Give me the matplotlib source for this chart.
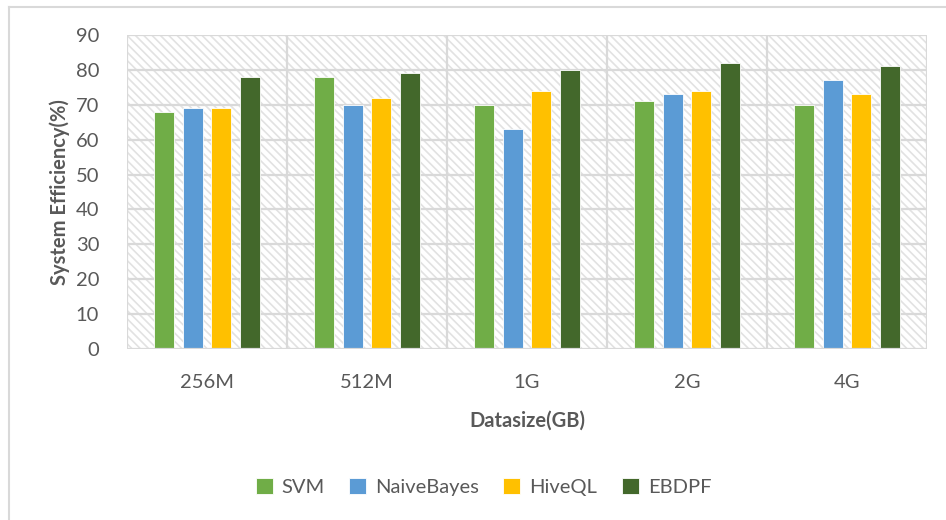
import numpy as np
import matplotlib
matplotlib.use('Agg')
import matplotlib.pyplot as plt
from matplotlib.patches import Rectangle
from matplotlib.lines import Line2D

# ── data ──────────────────────────────────────────────────────────────
sizes = ['256M', '512M', '1G', '2G', '4G']
svm = [68, 78, 70, 71, 70]
naive_bayes = [69, 70, 63, 73, 77]
hiveql = [69, 72, 74, 74, 73]
ebdpf = [78, 79, 80, 82, 81]

series = [('SVM', svm, '#70AD47'),
          ('NaiveBayes', naive_bayes, '#5B9BD5'),
          ('HiveQL', hiveql, '#FFC000'),
          ('EBDPF', ebdpf, '#43682B')]

plt.rcParams['font.family'] = ['Lato', 'DejaVu Sans']
plt.rcParams['hatch.linewidth'] = 1.2
plt.rcParams['hatch.color'] = '#e2e2e2'
txt = '#595959'
grid = '#d9d9d9'
fs = 14.5

fig = plt.figure(figsize=(9.46, 5.2), dpi=100)
ax = fig.add_axes([127/946, 1 - 349/520, 800/946, 314/520])

# chart-area frame (open on right and bottom)
fig.add_artist(Line2D([9/946, 9/946], [0, 1 - 7/520], transform=fig.transFigure,
                      color=grid, lw=1.5))
fig.add_artist(Line2D([9/946, 1], [1 - 7/520, 1 - 7/520], transform=fig.transFigure,
                      color=grid, lw=1.5))

# hatched plot background
ax.add_patch(Rectangle((0, 0), 1, 1, transform=ax.transAxes, facecolor='white',
                       edgecolor='#e2e2e2', hatch='\\\\\\\\', lw=0, zorder=0))

x = np.arange(len(sizes))
w = 0.125
step = 0.18
for i, (name, vals, col) in enumerate(series):
    ax.bar(x + (i - 1.5) * step, vals, width=w, color=col, edgecolor='white',
           linewidth=0.6, label=name, zorder=3)

ax.set_xlim(-0.5, len(sizes) - 0.5)
ax.set_ylim(0, 90)
ax.set_yticks(range(0, 91, 10))
ax.set_xticks(x)
ax.set_xticklabels(sizes)

# gridlines: horizontal at ticks, vertical between categories
for yv in range(10, 91, 10):
    ax.axhline(yv, color=grid, lw=1.6, zorder=1)
for xv in np.arange(-0.5, len(sizes), 1.0):
    ax.axvline(xv, color=grid, lw=1.6, zorder=1)

for s in ax.spines.values():
    s.set_visible(False)
ax.axhline(0, color=grid, lw=1.6, zorder=4)
ax.tick_params(length=0, labelsize=fs, colors=txt)
ax.tick_params(axis='x', pad=18)
ax.tick_params(axis='y', pad=20)

ax.set_xlabel('Datasize(GB)', fontsize=fs, fontweight='bold', color=txt, labelpad=14)
ax.set_ylabel('System Efficiency(%)', fontsize=fs, fontweight='bold', color=txt, labelpad=4)

handles, labels = ax.get_legend_handles_labels()
fig.legend(handles, labels, loc='center', bbox_to_anchor=(0.511, 1 - 487/520), ncol=4,
           frameon=False, fontsize=fs, labelcolor=txt, handlelength=0.85,
           handleheight=0.85, handletextpad=0.45, columnspacing=1.2)

fig.savefig('out.png', dpi=100)
